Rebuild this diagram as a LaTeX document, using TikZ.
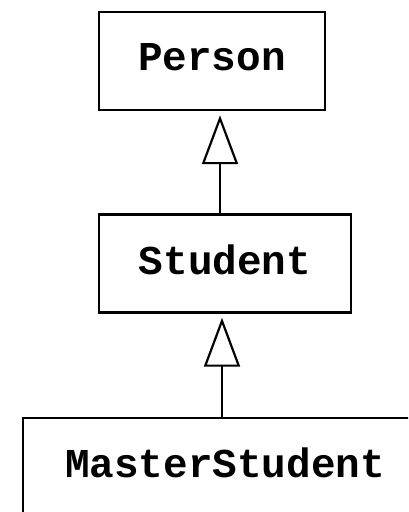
\documentclass[tikz,border=0pt]{standalone}
\usepackage{fontspec}
\setmonofont{Liberation Mono}
\usetikzlibrary{arrows.meta}
\begin{document}
\begin{tikzpicture}[x=1pt,y=-1pt,
  classbox/.style={draw=black, line width=2.4pt, rectangle, inner sep=0pt,
    minimum height=98pt, text depth=8pt,
    font=\fontsize{41}{41}\selectfont\ttfamily\bfseries},
  inherits/.style={draw=black, line width=2.2pt, shorten >=4pt,
    -{Triangle[open, length=49pt, width=36pt, line width=2.2pt]}}]
  % page frame; the lowest class runs off the bottom and right edges
  \clip (0,0) rectangle (408,512);
  \fill[white] (0,0) rectangle (408,512);

  \node[classbox, minimum width=226pt] (person)  at (212,61)  {Person};
  \node[classbox, minimum width=252pt] (student) at (225,263.5) {Student};
  \node[classbox, minimum width=404pt] (master)  at (225,467) {MasterStudent};

  % generalisation arrows
  \draw[inherits] ([xshift=-5pt]student.north) -- ([xshift=8pt]person.south);
  \draw[inherits] ([xshift=-3pt]master.north) -- ([xshift=-3pt]student.south);
\end{tikzpicture}
\end{document}
